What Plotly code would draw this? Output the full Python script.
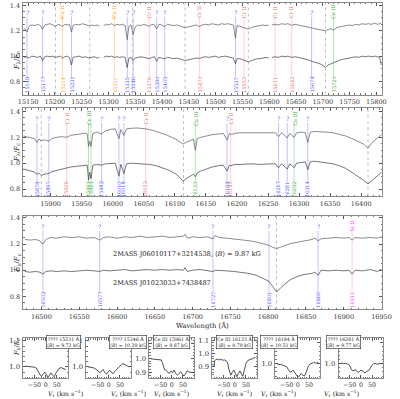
import plotly.graph_objects as go

W, H = 400, 399
FONT = "DejaVu Serif"

# ---------------- data ----------------
# Panel 1 (blue chip): wavelength, upper star (offset), lower star
p1_wave = [15143,15148,15152,15157,15163,15168,15173,15177,15181,15186,
           15191,15196,15201,15206,15210,15214,15218,15223,15227,15231,
           15234,15239,15245,15251,15257,15263,15268,15274,15279,15283,
           15287,15291,15296,15301,15306,15311,15316,15321,15326,15331,
           15335,15338,15342,15346,15350,15355,15360,15366,15371,15376,
           15381,15386,15390,15394,15399,15405,15410,15416,15422,15428,
           15434,15439,15443,15448,15453,15458,15464,15470,15475,15481,
           15487,15493,15499,15505,15511,15517,15523,15529,15533,15537,
           15540,15545,15549,15553,15557,15561,15565,15570,15576,15582,
           15588,15594,15599,15602,15605,15611,15617,15623,15629,15635,
           15642,15648,15654,15660,15666,15672,15679,15685,15691,15697,
           15705,15710,15715,15720,15725,15731,15737,15743,15749,15755,
           15761,15767,15773,15779,15785,15791,15797,15802,15806,15809]
p1_upper = [1.22,1.19,1.235,1.245,1.24,1.25,1.24,1.21,1.245,1.25,
            1.255,1.245,1.235,1.25,1.245,1.232,1.25,1.245,1.25,1.19,
            1.24,1.25,1.245,1.255,1.245,1.24,1.245,1.24,1.245,1.235,
            None,1.24,1.25,1.245,1.255,1.24,1.25,1.245,1.25,1.24,
            1.13,1.235,1.245,1.17,1.23,1.245,1.24,1.25,1.245,1.235,
            1.25,1.245,1.215,1.25,1.245,1.232,1.25,1.245,1.24,1.245,
            1.235,1.23,1.222,1.23,1.235,1.24,1.245,1.232,1.245,1.25,
            1.245,1.255,1.25,1.245,1.255,1.25,1.255,1.25,1.245,1.14,
            1.24,1.235,1.23,1.225,1.22,1.212,1.22,1.23,1.235,1.24,
            1.245,1.24,1.245,None,1.245,1.25,1.245,1.255,1.25,1.255,
            1.242,1.25,1.245,1.24,1.235,1.23,1.222,1.22,1.212,1.205,
            1.198,1.21,1.215,1.205,1.222,1.23,1.235,1.24,1.245,1.24,
            1.25,1.245,1.255,1.25,1.255,1.25,1.26,1.25,1.255,1.26]
p1_lower = [0.99,0.995,0.985,1.0,0.995,0.99,1.0,0.965,0.995,1.0,
            0.995,1.0,0.99,0.995,1.0,0.985,0.995,1.0,0.99,0.93,
            0.99,0.995,1.0,0.99,0.995,0.985,0.99,0.995,0.985,0.99,
            None,0.99,1.0,0.995,1.0,0.99,0.995,0.99,0.995,0.99,
            0.91,0.985,0.99,0.965,0.985,0.99,0.995,0.99,0.985,0.98,
            0.99,0.995,0.96,0.99,0.985,0.978,0.99,0.985,0.98,0.985,
            0.975,0.97,0.965,0.97,0.978,0.98,0.985,0.982,0.99,0.995,
            0.99,0.995,1.0,0.99,0.995,1.0,0.995,0.99,0.985,0.94,
            0.98,0.98,0.975,0.97,0.96,0.955,0.962,0.97,0.978,0.98,
            0.985,0.99,0.985,None,0.99,0.995,0.99,1.0,0.995,1.0,
            0.99,0.995,0.99,0.985,0.98,0.972,0.96,0.955,0.945,0.935,
            0.913,0.93,0.94,0.945,0.958,0.968,0.975,0.98,0.985,0.99,
            0.995,0.99,1.0,0.995,1.0,0.995,1.0,0.995,0.99,0.93]

# Panel 2 (green chip)
p2_wave = [15856,15862,15868,15874,15878,15881,15885,15890,15897,15902,15910,15918,15926,15932,15940,15948,15955,15959,15961,15963,
           15965,15968,15975,15982,15988,15997,16004,16010,16013,16018,16022,16030,16040,16053,16060,16070,16080,16088,16095,16102,
           16108,16113,16118,16124,16130,16133,16136,16142,16150,16160,16170,16178,16184,16188,16190,16196,16205,16215,16225,16235,
           16245,16255,16262,16267,16272,16281,16285,16292,16296,16305,16310,16314,16318,16325,16335,16345,16355,16365,16375,16385,
           16395,16403,16411,16416,16422,16428,16433]
p2_upper = [1.21,1.205,1.195,1.19,1.16,1.185,1.175,1.18,1.17,1.19,1.2,1.205,1.2,1.215,1.22,1.225,1.232,1.225,1.13,1.17,
            1.13,1.23,1.24,1.225,1.25,1.262,1.265,1.19,1.26,1.215,1.265,1.27,1.272,1.265,1.26,1.245,1.23,1.215,1.2,1.185,
            1.165,1.148,1.16,1.175,1.185,1.1,1.19,1.2,1.21,1.22,1.225,1.23,1.18,1.23,1.22,1.23,1.235,1.235,1.24,1.235,
            1.24,1.235,1.235,1.205,1.235,1.195,1.23,1.2,1.235,1.24,1.235,1.16,1.24,1.245,1.245,1.24,1.235,1.225,1.21,1.19,
            1.17,1.15,1.115,1.15,1.18,1.2,1.22]
p2_lower = [0.955,0.95,0.94,0.93,0.915,0.925,0.905,0.915,0.92,0.935,0.945,0.955,0.96,0.97,0.975,0.98,0.985,0.985,0.87,0.93,
            0.88,0.985,0.99,0.985,0.995,1.0,1.0,0.9,0.99,0.92,0.995,1.0,0.998,0.995,0.99,0.98,0.965,0.95,0.935,0.915,
            0.89,0.86,0.88,0.9,0.915,0.895,0.925,0.94,0.955,0.97,0.98,0.985,0.94,0.985,0.98,0.99,0.99,0.995,0.995,0.99,
            0.995,0.995,0.995,0.965,0.995,0.955,0.995,0.965,1.0,1.005,1.01,0.95,1.01,1.015,1.01,1.005,0.995,0.98,0.96,0.93,
            0.9,0.87,0.84,0.86,0.89,0.91,0.93]

# Panel 3 (red chip)
p3_wave = [16478,16485,16492,16498,16502,16506,16512,16520,16530,16540,16550,16560,16570,16577,16582,16590,16600,16610,16620,16630,
           16640,16650,16660,16670,16680,16688,16690,16693,16700,16710,16720,16727,16730,16735,16745,16755,16765,16775,16785,16795,
           16801,16806,16811,16816,16822,16830,16840,16850,16858,16862,16866,16870,16880,16890,16900,16907,16911,16915,16925,16935,
           16945,16950]
p3_upper = [1.235,1.23,1.235,1.225,1.2,1.235,1.25,1.245,1.255,1.25,1.255,1.245,1.25,1.23,1.25,1.255,1.245,1.255,1.25,1.26,
            1.25,1.255,1.26,1.25,1.255,1.26,1.275,1.245,1.255,1.25,1.255,1.24,1.265,1.25,1.245,1.24,1.235,1.225,1.215,1.2,
            1.19,1.175,1.165,1.175,1.19,1.205,1.215,1.225,1.235,1.245,1.225,1.24,1.245,1.25,1.245,1.25,1.23,1.25,1.245,1.25,
            1.245,1.255]
p3_lower = [0.99,0.985,0.99,0.985,0.97,0.99,0.995,0.99,0.995,0.99,0.995,1.0,0.995,0.99,1.0,0.995,1.0,1.005,0.995,1.0,
            1.005,1.0,1.005,1.0,1.005,1.0,1.02,0.99,1.0,1.005,0.995,0.99,1.0,1.0,0.995,0.99,0.985,0.975,0.96,0.935,
            0.915,0.875,0.835,0.86,0.895,0.93,0.955,0.97,0.975,0.985,0.96,1.0,0.995,1.0,0.995,1.0,0.97,1.0,0.995,1.005,
            0.99,1.01]

# Line identifications
p1_lines = [15148,15177,15214,15231,15311,15335,15346,15376,15390,15405,15470,15537,15553,15611,15642,15679,15720]
p1_species = ["?","?","Mn II","?","Mn II","?","?","Cr II","?","?","Cr II","?","Cr II","Cr II","Cr II","?","Ce III"]
p2_lines = [15878,15897,15926,15961,15965,15982,16010,16018,16053,16133,16184,16190,16267,16281,16292,16314]
p2_species = ["?","?","Cr II","Ce III","Ce III","?","?","?","Cr II","Ce III","?","Cr II","?","?","Ce III","?"]
p3_lines = [16502,16577,16727,16801,16866,16911]
p3_species = ["?","?","?","?","?","Si II"]

# Hydrogen Brackett lines (dotted)
brackett = [15201,15265,15345,15443,15561,15705,15885,16114,16411,16811]

star1 = "2MASS J06010117+3214538, ⟨<i>B</i>⟩ = 9.87 kG"
star2 = "2MASS J01023033+7438487"

# Velocity profiles (bottom row)
prof_titles = ["???? 15231 Å", "???? 15346 Å", "Ce III 15961 Å", "Ce III 16133 Å", "???? 16184 Å", "???? 16281 Å"]
prof_B = ["9.72", "10.29", "9.87", "9.79", "10.51", "9.77"]
v1 = [-92,-80,-70,-60,-50,-42,-36,-30,-24,-19,-12,-4,3,10,17,24,31,38,45,52,60,70,80,90]
f1 = [1.003,1.002,1.0,1.001,0.999,0.996,0.985,0.975,0.968,0.963,0.972,0.98,0.972,0.959,0.968,0.977,0.968,0.962,0.975,0.987,0.995,0.997,0.994,0.99]
v2 = [-92,-80,-70,-62,-54,-47,-40,-33,-25,-18,-10,-3,4,11,19,26,34,41,49,56,63,70,78,85,92]
f2 = [1.0,0.999,0.997,0.994,0.99,0.984,0.977,0.984,0.99,0.98,0.972,0.98,0.987,0.98,0.974,0.982,0.99,0.997,1.003,1.008,1.013,1.01,1.006,1.003,1.0]
v3 = [-92,-82,-72,-62,-54,-47,-42,-37,-32,-26,-19,-12,-4,3,10,17,25,32,40,47,54,62,69,76,84,92]
f3 = [0.995,0.994,0.995,0.993,0.99,0.988,0.97,0.94,0.92,0.917,0.905,0.894,0.91,0.9,0.917,0.895,0.883,0.895,0.906,0.89,0.876,0.893,0.913,0.905,0.9,0.9]
v4 = [-93,-90,-85,-78,-70,-62,-54,-46,-38,-32,-26,-18,-11,-4,3,9,16,23,30,36,43,50,58,66,75,84,92]
f4 = [0.9,0.945,0.955,0.958,0.952,0.956,0.95,0.952,0.945,0.93,0.88,0.838,0.86,0.875,0.85,0.826,0.85,0.87,0.845,0.83,0.88,0.925,0.948,0.955,0.96,0.965,0.97]
v5 = [-92,-82,-72,-62,-54,-48,-42,-34,-26,-19,-13,-8,-2,3,9,15,22,30,36,42,48,55,62,70,78,85,92]
f5 = [0.997,0.996,0.994,0.99,0.986,0.982,0.97,0.958,0.964,0.967,0.955,0.945,0.938,0.935,0.945,0.952,0.944,0.94,0.955,0.975,0.99,0.997,1.002,1.005,1.003,1.002,1.007]
v6 = [-92,-84,-76,-68,-60,-54,-48,-42,-36,-30,-24,-18,-12,-6,0,6,12,18,24,30,36,42,48,56,64,72,80,88,92]
f6 = [1.0,1.002,0.999,1.001,0.998,0.995,0.985,0.97,0.965,0.968,0.97,0.962,0.958,0.962,0.968,0.966,0.96,0.955,0.96,0.965,0.968,0.978,0.99,0.998,1.0,0.997,0.999,1.0,0.998]
prof_v = [v1, v2, v3, v4, v5, v6]
prof_f = [f1, f2, f3, f4, f5, f6]
vel_ticks = [-50, 0, 50]

# ---------------- styling ----------------
SPEC_COL = {"?": ("#c2c2ff", "#4d4dff"), "Mn II": ("#ffdca0", "#ffa41b"),
            "Cr II": ("#ffcfcf", "#e06a6a"), "Ce III": ("#b6e4b6", "#35a535"),
            "Si II": ("#ffcadb", "#ff3cff")}

def px_x(p):
    return p / W

def px_y(p):
    return 1 - p / H

main_panels = [
    dict(wave=p1_wave, up=p1_upper, lo=p1_lower, lines=p1_lines, sp=p1_species,
         xr=[15141, 15811], yr=[0.698, 1.418], top=1, bot=93, lt=1.31, lb=0.83, qy=1.345, ny=0.775),
    dict(wave=p2_wave, up=p2_upper, lo=p2_lower, lines=p2_lines, sp=p2_species,
         xr=[15856, 16434], yr=[0.746, 1.423], top=107, bot=195, lt=1.31, lb=0.85, qy=1.345, ny=0.797),
    dict(wave=p3_wave, up=p3_upper, lo=p3_lower, lines=p3_lines, sp=p3_species,
         xr=[16476, 16951], yr=[0.70, 1.415], top=215, bot=309, lt=1.30, lb=0.83, qy=1.335, ny=0.775),
]

fig = go.Figure()
annotations = []

def axis_common(size=6.5, standoff=1):
    return dict(showline=True, linecolor="#8a8a8a", linewidth=0.8, mirror="allticks",
                ticks="inside", ticklen=3, tickwidth=0.6, tickcolor="#555",
                showgrid=False, zeroline=False, tickfont=dict(family=FONT, size=size, color="#333"),
                ticklabelstandoff=standoff)

for i, p in enumerate(main_panels):
    n = i + 1
    xa = "x" if n == 1 else f"x{n}"
    ya = "y" if n == 1 else f"y{n}"
    lo_lim, hi_lim = p["xr"]
    bx, by = [], []
    for b in brackett:
        if lo_lim < b < hi_lim:
            bx += [b, b, None]
            by += [p["yr"][0], p["yr"][1], None]
    fig.add_trace(go.Scatter(x=bx, y=by, mode="lines", xaxis=xa, yaxis=ya,
                             line=dict(color="#b0b0b0", width=0.8, dash="dot"), hoverinfo="skip"))
    for sp in SPEC_COL:
        lx, ly = [], []
        for w, s in zip(p["lines"], p["sp"]):
            if s == sp:
                lx += [w, w, None]
                ly += [p["lb"], p["lt"], None]
        if lx:
            fig.add_trace(go.Scatter(x=lx, y=ly, mode="lines", xaxis=xa, yaxis=ya,
                                     line=dict(color=SPEC_COL[sp][0], width=1.0), hoverinfo="skip"))
    prev = None
    for w, s in zip(p["lines"], p["sp"]):
        col = SPEC_COL[s][1]
        if not (prev is not None and prev[1] == s and s != "?" and abs(w - prev[0]) < 8):
            if s == "?":
                annotations.append(dict(x=w, y=p["qy"], xref=xa, yref=ya, text="?", showarrow=False,
                                        font=dict(family=FONT, size=6, color=col)))
            else:
                annotations.append(dict(x=w, y=p["qy"], xref=xa, yref=ya, text=s, showarrow=False,
                                        textangle=-90, font=dict(family=FONT, size=5, color=col)))
        annotations.append(dict(x=w, y=p["ny"], xref=xa, yref=ya, text=str(w), showarrow=False,
                                textangle=-90, font=dict(family=FONT, size=5, color=col)))
        prev = (w, s)
    fig.add_trace(go.Scatter(x=p["wave"], y=p["up"], mode="lines", xaxis=xa, yaxis=ya,
                             line=dict(color="#5a5a5a", width=0.7), connectgaps=False, hoverinfo="skip"))
    fig.add_trace(go.Scatter(x=p["wave"], y=p["lo"], mode="lines", xaxis=xa, yaxis=ya,
                             line=dict(color="#3c3c3c", width=0.7), connectgaps=False, hoverinfo="skip"))
    xkey = "xaxis" if n == 1 else f"xaxis{n}"
    ykey = "yaxis" if n == 1 else f"yaxis{n}"
    fig.layout[xkey] = dict(domain=[px_x(19), px_x(392)], range=p["xr"], anchor=ya, dtick=50,
                            tickformat="d", tickangle=0,
                            minor=dict(ticks="inside", ticklen=1.5, dtick=10, tickcolor="#777"),
                            **axis_common())
    fig.layout[ykey] = dict(domain=[px_y(p["bot"]), px_y(p["top"])], range=p["yr"], anchor=xa,
                            tickvals=[0.8, 1.0, 1.2, 1.4], ticktext=["0.8", "1.0", "1.2", "1.4"],
                            minor=dict(ticks="inside", ticklen=1.5, dtick=0.05, tickcolor="#777"),
                            **axis_common())
    annotations.append(dict(x=px_x(6), y=px_y((p["top"] + p["bot"]) / 2), xref="paper", yref="paper",
                            text="<i>F</i><sub>λ</sub>/<i>F</i><sub>c</sub>", textangle=-90, showarrow=False,
                            font=dict(family=FONT, size=7, color="#222")))

annotations.append(dict(x=16592, y=1.127, xref="x3", yref="y3", text=star1, showarrow=False, xanchor="left",
                        font=dict(family=FONT, size=6.6, color="#222")))
annotations.append(dict(x=16592, y=0.906, xref="x3", yref="y3", text=star2, showarrow=False, xanchor="left",
                        font=dict(family=FONT, size=6.6, color="#222")))
annotations.append(dict(x=px_x(205), y=px_y(318.5), xref="paper", yref="paper", text="Wavelength (Å)",
                        showarrow=False, yanchor="top", font=dict(family=FONT, size=6.8, color="#222")))

prof_yr = [[0.957, 1.11], [0.957, 1.11], [0.862, 1.138], [0.816, 1.114], [0.93, 1.121], [0.93, 1.121]]
for k in range(6):
    n = 4 + k
    xa, ya = f"x{n}", f"y{n}"
    left = 19 + 65.5 * k
    right = left + 46.5
    fig.add_trace(go.Scatter(x=prof_v[k], y=prof_f[k], mode="lines", xaxis=xa, yaxis=ya,
                             line=dict(color="#222", width=0.8), hoverinfo="skip"))
    fig.layout[f"xaxis{n}"] = dict(domain=[px_x(left), px_x(right)], range=[-100, 100], anchor=ya,
                                   tickvals=vel_ticks, ticktext=["−50", "0", "50"], tickangle=0,
                                   minor=dict(ticks="inside", ticklen=1.5, dtick=10, tickcolor="#777"),
                                   **axis_common(6.3, 0))
    fig.layout[f"yaxis{n}"] = dict(domain=[px_y(378), px_y(338)], range=prof_yr[k], anchor=xa,
                                   dtick=0.1, tickformat=".1f",
                                   minor=dict(ticks="inside", ticklen=1.5, dtick=0.02, tickcolor="#777"),
                                   **axis_common(6.8))
    annotations.append(dict(x=px_x((left + right) / 2), y=px_y(348.5), xref="paper", yref="paper",
                            text=f"{prof_titles[k]}<br>⟨<i>B</i>⟩ = {prof_B[k]} kG", showarrow=False,
                            bgcolor="white", bordercolor="#222", borderwidth=0.6, borderpad=0.5,
                            font=dict(family=FONT, size=4.7, color="#222")))
    annotations.append(dict(x=px_x((left + right) / 2), y=px_y(387), xref="paper", yref="paper",
                            text="<i>V</i><sub>r</sub> (km s<sup>−1</sup>)", showarrow=False, yanchor="top",
                            font=dict(family=FONT, size=6.3, color="#222")))
annotations.append(dict(x=px_x(6), y=px_y(358), xref="paper", yref="paper",
                        text="<i>F</i><sub>λ</sub>/<i>F</i><sub>c</sub>", textangle=-90, showarrow=False,
                        font=dict(family=FONT, size=6.5, color="#222")))

fig.update_layout(width=W, height=H, margin=dict(l=0, r=0, t=0, b=0), showlegend=False,
                  paper_bgcolor="white", plot_bgcolor="white", annotations=annotations,
                  font=dict(family=FONT, size=6.5, color="#333"))
# remove the browser's default 8px page margin so the figure sits at the window's corner
fig.write_html("out.html", config={"displayModeBar": False},
               post_script="document.body.style.margin='0px';document.body.style.overflow='hidden';")
